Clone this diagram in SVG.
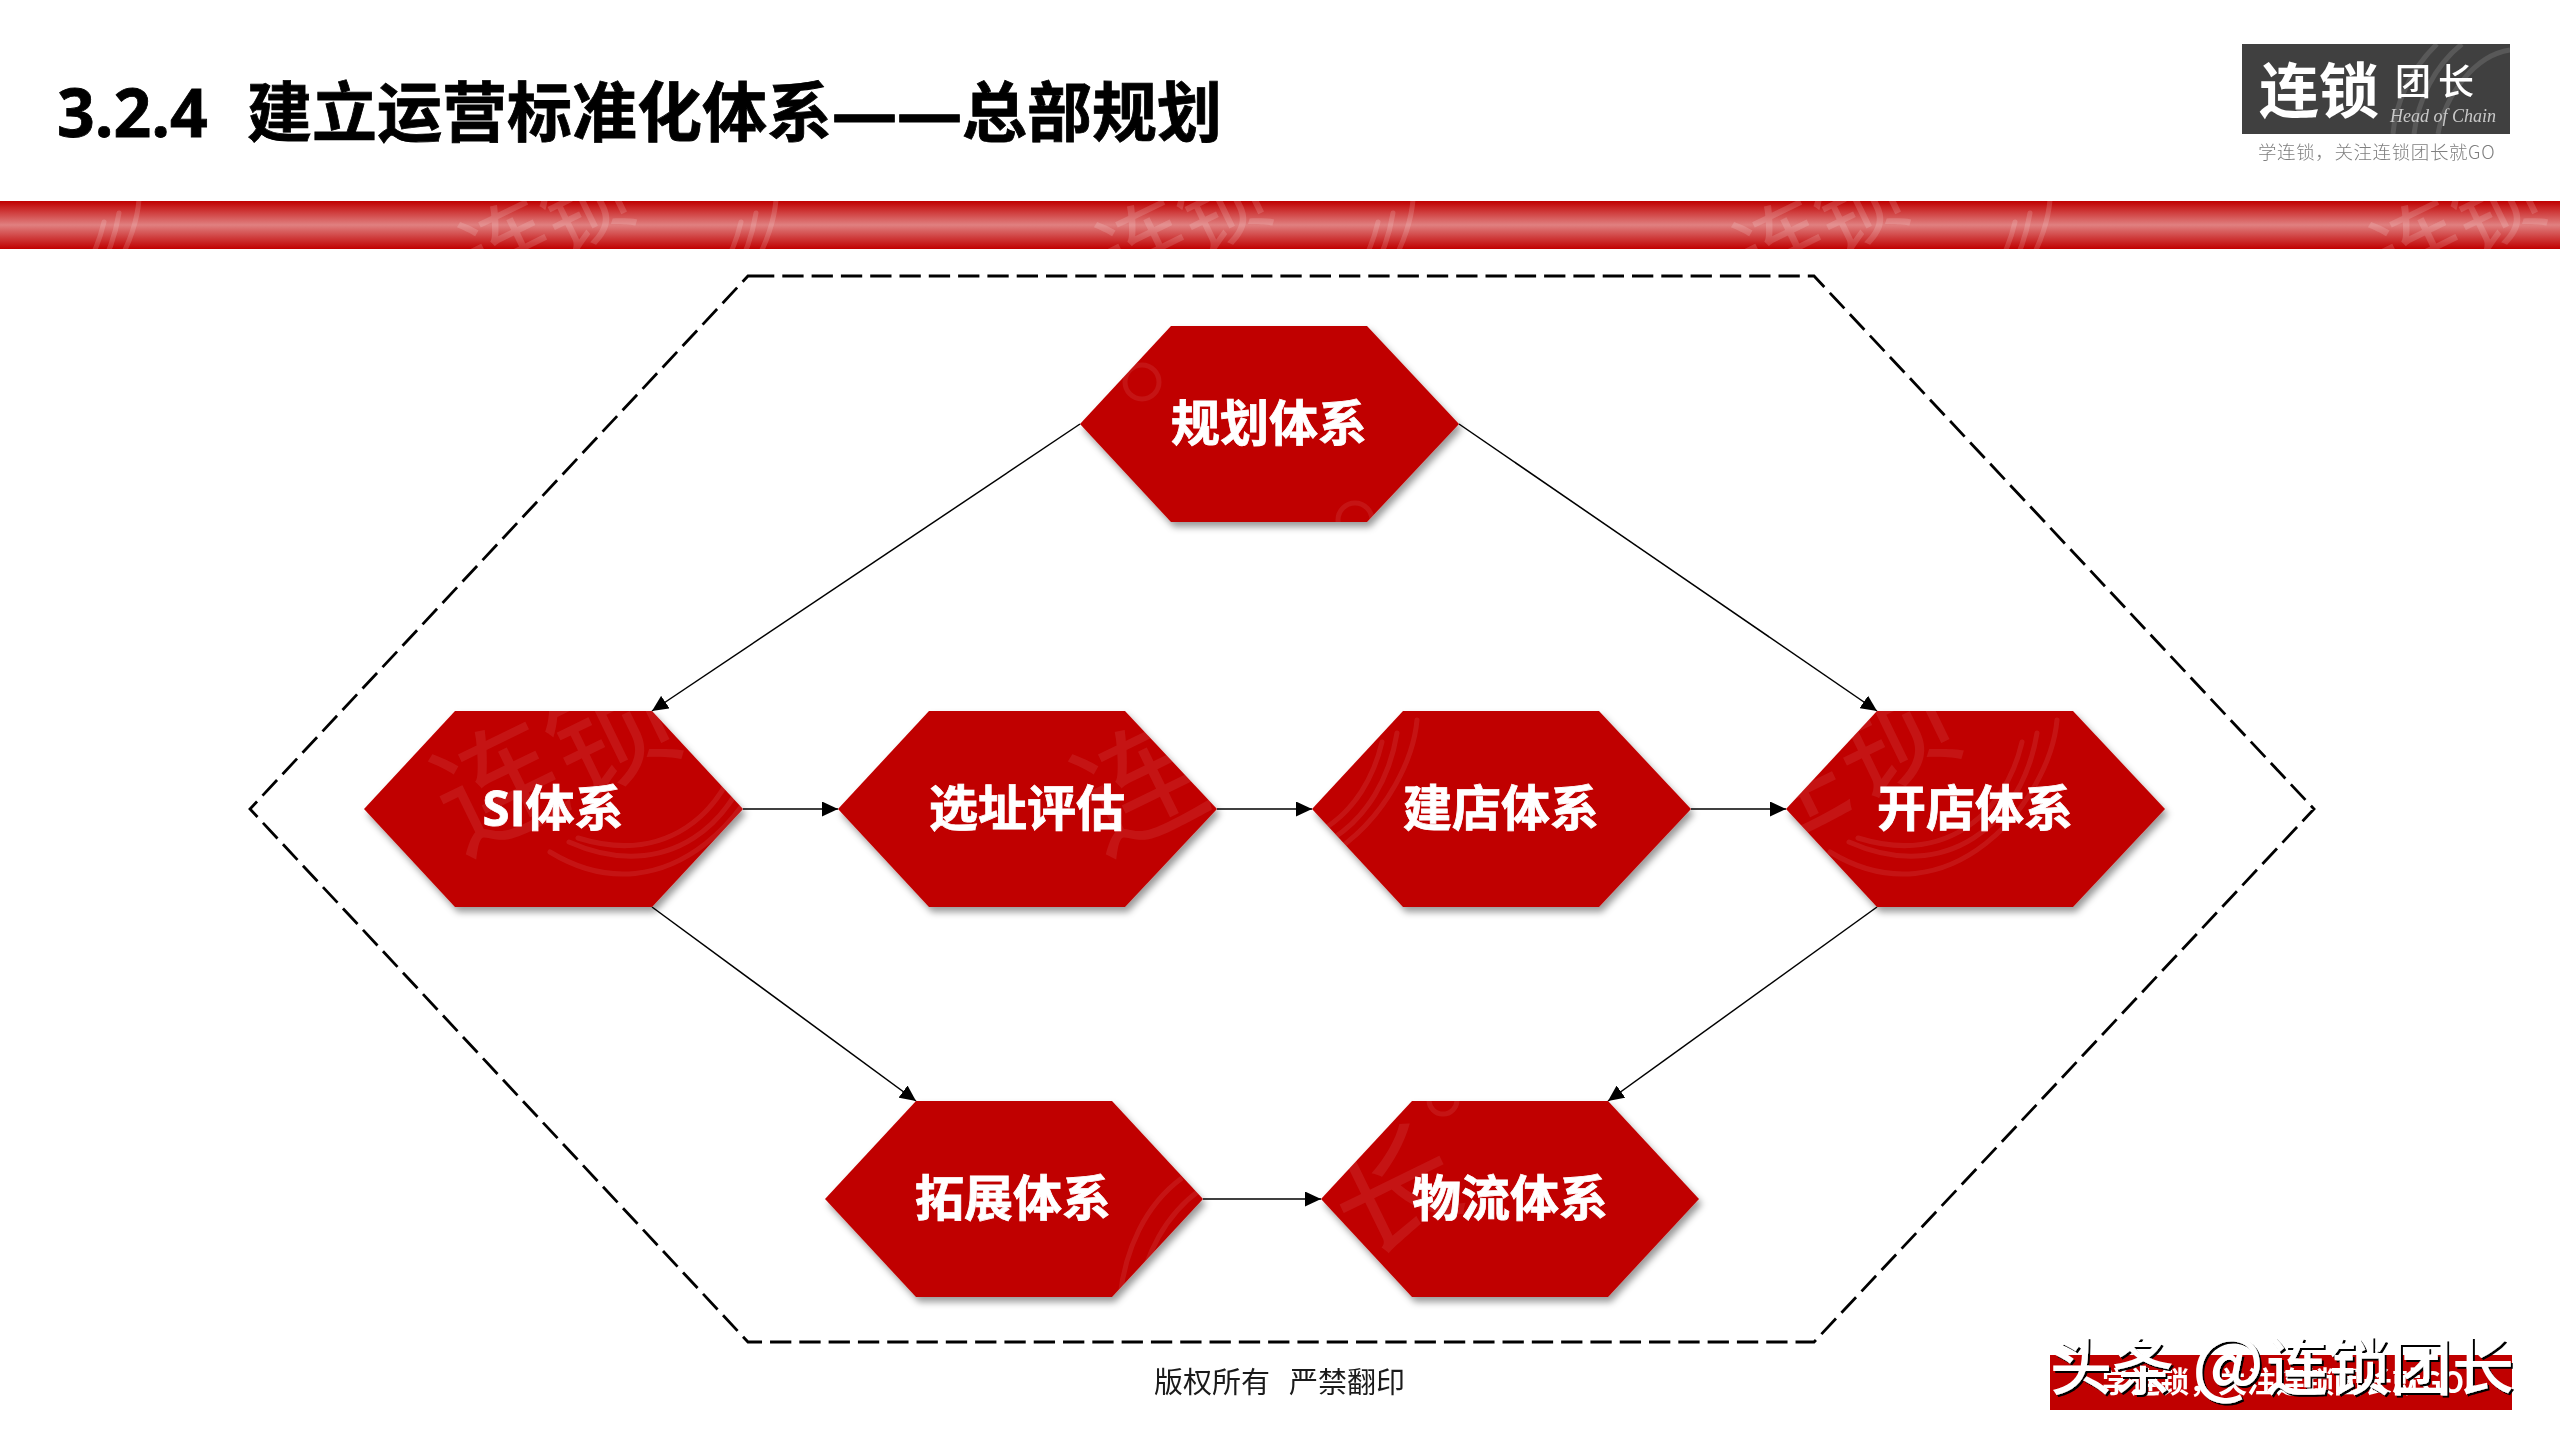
<svg xmlns="http://www.w3.org/2000/svg" width="2560" height="1440" viewBox="0 0 2560 1440">
<style>
text{font-family:"Open Sans","Noto Sans CJK SC",sans-serif}
.hex{fill:#c00000;filter:url(#sh)}
.lbl{fill:#fff;stroke:#fff;stroke-width:.8;font-size:49px;font-weight:700;text-anchor:middle}
.ttl{fill:#000;stroke:#000;stroke-width:.8;font-weight:700}
.wmn{opacity:.08}
.wmb{opacity:.15}
.conn{fill:none;stroke:#000;stroke-width:1.5;marker-end:url(#ah)}
.wt{fill:#fff;font-size:125px;font-family:"Noto Sans CJK SC",sans-serif}
.wa{fill:none;stroke:#fff;stroke-width:5;stroke-linecap:round}
.cjk{font-family:"Noto Sans CJK SC",sans-serif}
</style>
<defs>
<linearGradient id="band" x1="0" y1="0" x2="0" y2="1"><stop offset="0" stop-color="#c00000"/><stop offset=".5" stop-color="#e08080"/><stop offset="1" stop-color="#c00000"/></linearGradient>
<filter id="sh" x="-10%" y="-10%" width="125%" height="125%"><feDropShadow dx="3" dy="5" stdDeviation="3.5" flood-color="#000" flood-opacity=".4"/></filter>
<filter id="ts" x="-5%" y="-10%" width="110%" height="125%"><feDropShadow dx="2" dy="2" stdDeviation=".4" flood-color="#000" flood-opacity="1"/></filter>
<marker id="ah" markerUnits="userSpaceOnUse" markerWidth="17" markerHeight="15" refX="16" refY="7.5" orient="auto"><path d="M0 0L16 7.5L0 15z" fill="#000"/></marker>
<g id="arcs">
<path class="wa" d="M742 742C725 815 665 865 578 838"/>
<path class="wa" d="M757 733C742 825 665 885 569 842"/>
<path class="wa" d="M777 720C770 800 670 925 550 852"/>
</g>
<g id="wm">
<text class="wt" transform="translate(462 855) rotate(-26)">连锁</text>
<use href="#arcs"/>
</g>
<g id="wb">
<text class="wt" style="font-size:88px" transform="translate(482 293) rotate(-26)">连锁</text>
<use href="#arcs" transform="translate(0 -520)"/>
</g>
<clipPath id="cb"><rect x="0" y="201" width="2560" height="48"/></clipPath>
<clipPath id="cl"><rect x="2242" y="44" width="268" height="90"/></clipPath>
<clipPath id="c1"><polygon points="1171,326 1367,326 1459,424 1367,522 1171,522 1080,424"/></clipPath>
<clipPath id="c2"><polygon points="455,711 652,711 743,809 652,907 455,907 364,809"/></clipPath>
<clipPath id="c3"><polygon points="929,711 1125,711 1217,809 1125,907 929,907 838,809"/></clipPath>
<clipPath id="c4"><polygon points="1403,711 1599,711 1691,809 1599,907 1403,907 1312,809"/></clipPath>
<clipPath id="c5"><polygon points="1877,711 2073,711 2165,809 2073,907 1877,907 1786,809"/></clipPath>
<clipPath id="c6"><polygon points="916,1101 1112,1101 1203,1199 1112,1297 916,1297 825,1199"/></clipPath>
<clipPath id="c7"><polygon points="1412,1101 1608,1101 1699,1199 1608,1297 1412,1297 1321,1199"/></clipPath>
</defs>
<rect width="2560" height="1440" fill="#fff"/>
<g id="title"><text class="ttl" x="57" y="137" font-size="66">3.2.4</text><text class="ttl" x="247" y="136" font-size="65">建立运营标准化体系——总部规划</text></g>
<g id="band-top"><rect x="0" y="201" width="2560" height="48" fill="url(#band)"/>
<g clip-path="url(#cb)" class="wmb"><use href="#wb" transform="translate(-638 0)"/><use href="#wb" transform="translate(-1 0)"/><use href="#wb" transform="translate(636 0)"/><use href="#wb" transform="translate(1273 0)"/><use href="#wb" transform="translate(1910 0)"/></g></g>
<g id="logo"><rect x="2242" y="44" width="268" height="90" fill="#404040"/>
<g clip-path="url(#cl)" fill="none" stroke="#585858" stroke-width="5"><path d="M2437 44C2410 70 2395 105 2393 134"/><path d="M2462 44C2435 65 2418 100 2414 134"/><path d="M2510 50C2475 55 2445 95 2438 134"/></g>
<text x="2259" y="113" font-size="60" font-weight="700" fill="#fff" class="cjk">连锁</text>
<text x="2395" y="95" font-size="36" font-weight="500" letter-spacing="7" fill="#fff" class="cjk">团长</text>
<text x="2390" y="122" font-size="18" font-style="italic" fill="#c8c8c8" style="font-family:'Liberation Serif',serif">Head of Chain</text>
<text x="2258" y="159" font-size="18.5" font-weight="300" fill="#7f7f7f" letter-spacing=".6" class="cjk">学连锁，关注连锁团长就GO</text></g>
<path id="frame" d="M753 276H1814L2314 809L1814 1342H748L250 809L748 276Z" fill="none" stroke="#000" stroke-width="2.8" stroke-dasharray="21.3 8"/>
<g id="connectors">
<line class="conn" x1="1080" y1="424" x2="652" y2="711"/>
<line class="conn" x1="1459" y1="424" x2="1877" y2="711"/>
<line class="conn" x1="743" y1="809" x2="838" y2="809"/>
<line class="conn" x1="1217" y1="809" x2="1312" y2="809"/>
<line class="conn" x1="1691" y1="809" x2="1786" y2="809"/>
<line class="conn" x1="652" y1="907" x2="916" y2="1101"/>
<line class="conn" x1="1877" y1="907" x2="1608" y2="1101"/>
<line class="conn" x1="1203" y1="1199" x2="1321" y2="1199"/>
</g>
<g id="n-plan"><polygon class="hex" points="1171,326 1367,326 1459,424 1367,522 1171,522 1080,424"/>
<g clip-path="url(#c1)" class="wmn"><g fill="none" stroke="#fff" stroke-width="5"><circle cx="1142" cy="382" r="17"/><circle cx="1355" cy="520" r="17"/></g></g>
<text class="lbl" x="1269" y="441">规划体系</text></g>
<g id="n-si"><polygon class="hex" points="455,711 652,711 743,809 652,907 455,907 364,809"/>
<g clip-path="url(#c2)" class="wmn"><use href="#wm"/></g>
<text class="lbl" x="553" y="826">SI体系</text></g>
<g id="n-site"><polygon class="hex" points="929,711 1125,711 1217,809 1125,907 929,907 838,809"/>
<g clip-path="url(#c3)" class="wmn"><use href="#wm" transform="translate(640 0)"/></g>
<text class="lbl" x="1027" y="826">选址评估</text></g>
<g id="n-build"><polygon class="hex" points="1403,711 1599,711 1691,809 1599,907 1403,907 1312,809"/>
<g clip-path="url(#c4)" class="wmn"><use href="#wm" transform="translate(640 0)"/></g>
<text class="lbl" x="1501" y="826">建店体系</text></g>
<g id="n-open"><polygon class="hex" points="1877,711 2073,711 2165,809 2073,907 1877,907 1786,809"/>
<g clip-path="url(#c5)" class="wmn"><use href="#wm" transform="translate(1280 0)"/></g>
<text class="lbl" x="1975" y="826">开店体系</text></g>
<g id="n-expand"><polygon class="hex" points="916,1101 1112,1101 1203,1199 1112,1297 916,1297 825,1199"/>
<g clip-path="url(#c6)" class="wmn"><g fill="none" stroke="#fff" stroke-width="5"><path d="M1182 1178C1145 1205 1125 1250 1120 1297"/><path d="M1200 1190C1165 1215 1145 1255 1138 1297"/></g></g>
<text class="lbl" x="1013" y="1216">拓展体系</text></g>
<g id="n-logistics"><polygon class="hex" points="1412,1101 1608,1101 1699,1199 1608,1297 1412,1297 1321,1199"/>
<g clip-path="url(#c7)" class="wmn"><text class="wt" transform="translate(1358 1258) rotate(-26)">长</text><circle cx="1443" cy="1100" r="14" fill="none" stroke="#fff" stroke-width="5"/></g>
<text class="lbl" x="1510" y="1216">物流体系</text></g>
<g id="footer"><text x="1154" y="1393" font-size="29" fill="#1a1a1a" class="cjk">版权所有</text><text x="1289" y="1393" font-size="29" fill="#1a1a1a" class="cjk">严禁翻印</text></g>
<g id="stamp"><rect x="2050" y="1355" width="462" height="55" fill="#c00000"/>
<text x="2102" y="1393" font-size="29" font-weight="700" fill="#fff" class="cjk">学连锁，关注连锁团长就GO</text>
<text y="1390" font-size="62" font-weight="500" fill="#fff" filter="url(#ts)" class="cjk"><tspan x="2050">头条</tspan><tspan x="2192" font-size="74">@</tspan><tspan x="2266">连锁团长</tspan></text></g>
</svg>
